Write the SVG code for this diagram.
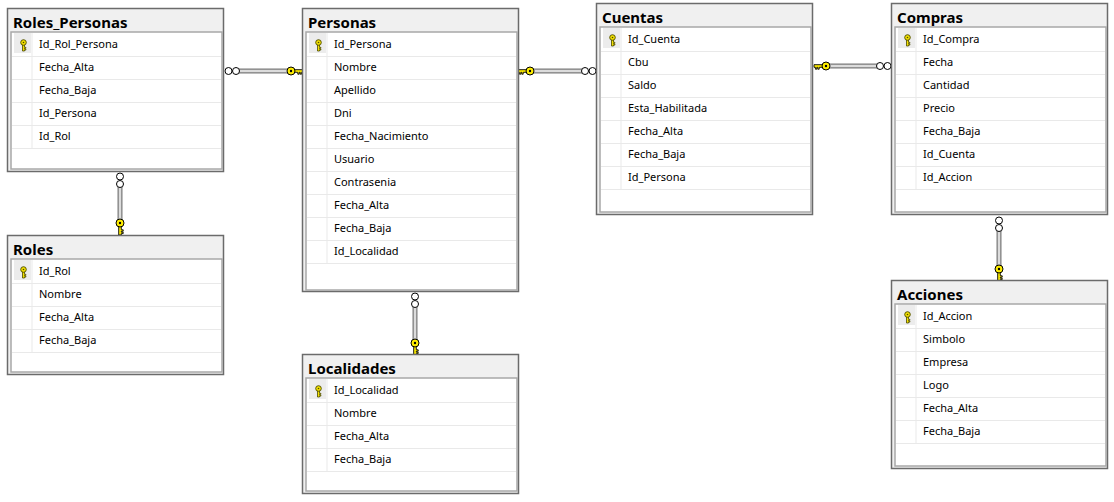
<svg xmlns="http://www.w3.org/2000/svg" xmlns:xlink="http://www.w3.org/1999/xlink" width="1114" height="502" viewBox="0 0 1114 502">
<style>
.tb{fill:#f0f0f0;stroke:#6b6b6b;stroke-width:1.5}
.in{fill:#fff;stroke:#a8a8a8;stroke-width:1.5}
.ttl{font-family:"Noto Sans","Open Sans",sans-serif;font-weight:bold;font-size:15px;fill:#000}
.col{font-family:"Noto Sans","Open Sans",sans-serif;font-size:11px;fill:#000}
.sep{stroke:#e9e9e9;stroke-width:1;fill:none}
.kc{fill:#ececec}
.bo{stroke:#7a7a7a;stroke-width:5;fill:none}
.bi{stroke:#dcdcdc;stroke-width:2.5;fill:none}
.ring{fill:#fff;stroke:#000;stroke-width:1}
</style>
<defs>
<g id="key">
<path d="M-1.3,3 V12 H1.3 V10.6 H3.2 V9.2 H1.3 V8.2 H3.2 V6.8 H1.3 V3 Z" fill="#ffee00" stroke="#000" stroke-width="0.9"/>
<circle r="4" fill="#ffee00" stroke="#000" stroke-width="1"/>
<circle r="1.2" fill="#000"/>
</g>
<g id="pk">
<path d="M-1,2 V8.5 H1 V7.6 H2.4 V6.6 H1 V5.8 H2.4 V4.8 H1 V2 Z" fill="#f3e000" stroke="#4a4a00" stroke-width="0.8"/>
<circle r="2.8" fill="#f3e000" stroke="#4a4a00" stroke-width="0.9"/>
<circle r="0.8" fill="#4a4a00"/>
</g>
<g id="rings">
<circle cx="0" cy="0" r="3.5" class="ring"/>
<circle cx="7.5" cy="0" r="3.5" class="ring"/>
</g>
</defs>
<rect width="1114" height="502" fill="#fff"/>

<g id="connectors">
<g id="c-rolespersonas-personas">
<line x1="239" y1="71" x2="288" y2="71" class="bo"/><line x1="239" y1="71" x2="288" y2="71" class="bi"/>
<use xlink:href="#rings" transform="translate(228.5,71)"/>
<use xlink:href="#key" transform="translate(291,71) rotate(-90) scale(-1,1)"/>
</g>
<g id="c-personas-cuentas">
<line x1="533" y1="71" x2="582" y2="71" class="bo"/><line x1="533" y1="71" x2="582" y2="71" class="bi"/>
<use xlink:href="#rings" transform="translate(585,71)"/>
<use xlink:href="#key" transform="translate(530,71) rotate(90)"/>
</g>
<g id="c-cuentas-compras">
<line x1="829" y1="66" x2="877" y2="66" class="bo"/><line x1="829" y1="66" x2="877" y2="66" class="bi"/>
<use xlink:href="#rings" transform="translate(880,66)"/>
<use xlink:href="#key" transform="translate(826,66) rotate(90)"/>
</g>
<g id="c-rolespersonas-roles">
<line x1="120" y1="187" x2="120" y2="220" class="bo"/><line x1="120" y1="187" x2="120" y2="220" class="bi"/>
<use xlink:href="#rings" transform="translate(120,176.5) rotate(90)"/>
<use xlink:href="#key" transform="translate(120,223)"/>
</g>
<g id="c-personas-localidades">
<line x1="415" y1="307" x2="415" y2="340" class="bo"/><line x1="415" y1="307" x2="415" y2="340" class="bi"/>
<use xlink:href="#rings" transform="translate(415,296.5) rotate(90)"/>
<use xlink:href="#key" transform="translate(415,343)"/>
</g>
<g id="c-compras-acciones">
<line x1="999" y1="231" x2="999" y2="266" class="bo"/><line x1="999" y1="231" x2="999" y2="266" class="bi"/>
<use xlink:href="#rings" transform="translate(999,220.5) rotate(90)"/>
<use xlink:href="#key" transform="translate(999,269)"/>
</g>
</g>

<g id="Roles_Personas">
<rect x="7.5" y="8.5" width="216" height="163" class="tb"/>
<rect x="11" y="32" width="211" height="137" class="in"/>
<text x="13" y="28" class="ttl">Roles_Personas</text>
<rect x="14" y="33" width="17" height="20" class="kc"/>
<use xlink:href="#pk" transform="translate(23.5,42.5)"/>
<path class="sep" d="M32,33V148 M12,56.5H221 M12,79.5H221 M12,102.5H221 M12,125.5H221 M12,148.5H221"/>
<text x="39" y="48" class="col">Id_Rol_Persona</text>
<text x="39" y="71" class="col">Fecha_Alta</text>
<text x="39" y="94" class="col">Fecha_Baja</text>
<text x="39" y="117" class="col">Id_Persona</text>
<text x="39" y="140" class="col">Id_Rol</text>
</g>

<g id="Roles">
<rect x="7.5" y="235.5" width="216" height="139" class="tb"/>
<rect x="11" y="259" width="211" height="113" class="in"/>
<text x="13" y="255" class="ttl">Roles</text>
<rect x="14" y="260" width="17" height="20" class="kc"/>
<use xlink:href="#pk" transform="translate(23.5,269.5)"/>
<path class="sep" d="M32,260V352 M12,283.5H221 M12,306.5H221 M12,329.5H221 M12,352.5H221"/>
<text x="39" y="275" class="col">Id_Rol</text>
<text x="39" y="298" class="col">Nombre</text>
<text x="39" y="321" class="col">Fecha_Alta</text>
<text x="39" y="344" class="col">Fecha_Baja</text>
</g>

<g id="Personas">
<rect x="302.5" y="8.5" width="216" height="283" class="tb"/>
<rect x="306" y="32" width="211" height="258" class="in"/>
<text x="308" y="28" class="ttl">Personas</text>
<rect x="309" y="33" width="17" height="20" class="kc"/>
<use xlink:href="#pk" transform="translate(318.5,42.5)"/>
<path class="sep" d="M327,33V263 M307,56.5H516 M307,79.5H516 M307,102.5H516 M307,125.5H516 M307,148.5H516 M307,171.5H516 M307,194.5H516 M307,217.5H516 M307,240.5H516 M307,263.5H516"/>
<text x="334" y="48" class="col">Id_Persona</text>
<text x="334" y="71" class="col">Nombre</text>
<text x="334" y="94" class="col">Apellido</text>
<text x="334" y="117" class="col">Dni</text>
<text x="334" y="140" class="col">Fecha_Nacimiento</text>
<text x="334" y="163" class="col">Usuario</text>
<text x="334" y="186" class="col">Contrasenia</text>
<text x="334" y="209" class="col">Fecha_Alta</text>
<text x="334" y="232" class="col">Fecha_Baja</text>
<text x="334" y="255" class="col">Id_Localidad</text>
</g>

<g id="Localidades">
<rect x="302.5" y="354.5" width="216" height="139" class="tb"/>
<rect x="306" y="378" width="211" height="113" class="in"/>
<text x="308" y="374" class="ttl">Localidades</text>
<rect x="309" y="379" width="17" height="20" class="kc"/>
<use xlink:href="#pk" transform="translate(318.5,388.5)"/>
<path class="sep" d="M327,379V471 M307,402.5H516 M307,425.5H516 M307,448.5H516 M307,471.5H516"/>
<text x="334" y="394" class="col">Id_Localidad</text>
<text x="334" y="417" class="col">Nombre</text>
<text x="334" y="440" class="col">Fecha_Alta</text>
<text x="334" y="463" class="col">Fecha_Baja</text>
</g>

<g id="Cuentas">
<rect x="596.5" y="3.5" width="216" height="211" class="tb"/>
<rect x="600" y="27" width="211" height="185" class="in"/>
<text x="602" y="23" class="ttl">Cuentas</text>
<rect x="603" y="28" width="17" height="20" class="kc"/>
<use xlink:href="#pk" transform="translate(612.5,37.5)"/>
<path class="sep" d="M621,28V189 M601,51.5H810 M601,74.5H810 M601,97.5H810 M601,120.5H810 M601,143.5H810 M601,166.5H810 M601,189.5H810"/>
<text x="628" y="43" class="col">Id_Cuenta</text>
<text x="628" y="66" class="col">Cbu</text>
<text x="628" y="89" class="col">Saldo</text>
<text x="628" y="112" class="col">Esta_Habilitada</text>
<text x="628" y="135" class="col">Fecha_Alta</text>
<text x="628" y="158" class="col">Fecha_Baja</text>
<text x="628" y="181" class="col">Id_Persona</text>
</g>

<g id="Compras">
<rect x="891.5" y="3.5" width="216" height="211" class="tb"/>
<rect x="895" y="27" width="211" height="185" class="in"/>
<text x="897" y="23" class="ttl">Compras</text>
<rect x="898" y="28" width="17" height="20" class="kc"/>
<use xlink:href="#pk" transform="translate(907.5,37.5)"/>
<path class="sep" d="M916,28V189 M896,51.5H1105 M896,74.5H1105 M896,97.5H1105 M896,120.5H1105 M896,143.5H1105 M896,166.5H1105 M896,189.5H1105"/>
<text x="923" y="43" class="col">Id_Compra</text>
<text x="923" y="66" class="col">Fecha</text>
<text x="923" y="89" class="col">Cantidad</text>
<text x="923" y="112" class="col">Precio</text>
<text x="923" y="135" class="col">Fecha_Baja</text>
<text x="923" y="158" class="col">Id_Cuenta</text>
<text x="923" y="181" class="col">Id_Accion</text>
</g>

<g id="Acciones">
<rect x="891.5" y="280.5" width="216" height="188" class="tb"/>
<rect x="895" y="304" width="211" height="162" class="in"/>
<text x="897" y="300" class="ttl">Acciones</text>
<rect x="898" y="305" width="17" height="20" class="kc"/>
<use xlink:href="#pk" transform="translate(907.5,314.5)"/>
<path class="sep" d="M916,305V443 M896,328.5H1105 M896,351.5H1105 M896,374.5H1105 M896,397.5H1105 M896,420.5H1105 M896,443.5H1105"/>
<text x="923" y="320" class="col">Id_Accion</text>
<text x="923" y="343" class="col">Simbolo</text>
<text x="923" y="366" class="col">Empresa</text>
<text x="923" y="389" class="col">Logo</text>
<text x="923" y="412" class="col">Fecha_Alta</text>
<text x="923" y="435" class="col">Fecha_Baja</text>
</g>
</svg>
